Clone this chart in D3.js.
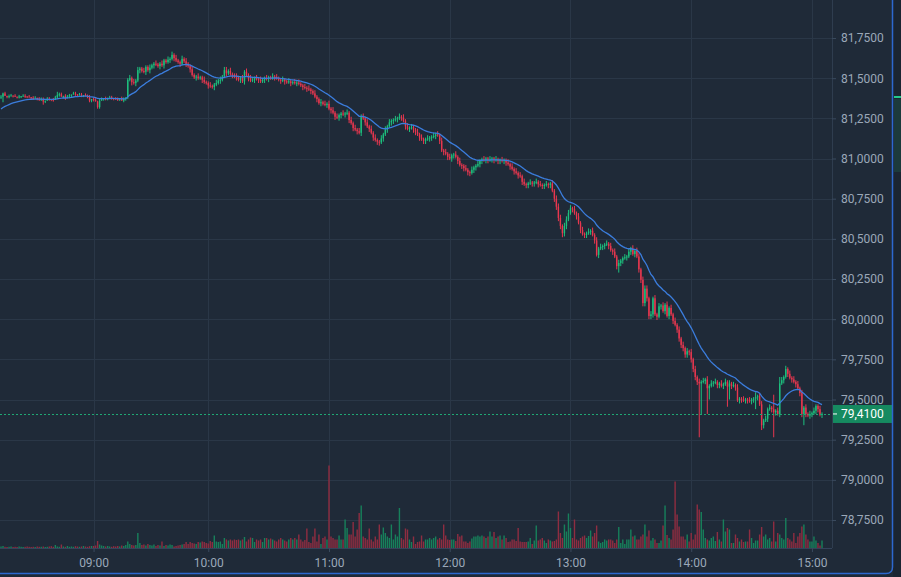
<!DOCTYPE html>
<html>
<head>
<meta charset="utf-8">
<script src="https://cdn.jsdelivr.net/npm/d3@7"></script>
<style>
  html, body { margin: 0; padding: 0; background: #1f2a38; }
  svg { display: block; font-family: Roboto, "Noto Sans", sans-serif; }
</style>
</head>
<body>
<svg width="901" height="577"></svg>
<script>
// one candle per minute, 08:14 - 15:05, a few minutes without trades
var startTime = "08:14",
    endTime = "15:05",
    missingMinutes = ["09:12", "09:33", "09:47"];

var firstOpen = 81.38;

var closes = [
  // 08:14 - 08:59
  81.385, 81.405, 81.39, 81.385, 81.388, 81.392, 81.39, 81.385, 81.384, 81.386,
  81.388, 81.39, 81.387, 81.385, 81.382, 81.378, 81.375, 81.378, 81.372, 81.368,
  81.37, 81.355, 81.36, 81.372, 81.37, 81.367, 81.364, 81.38, 81.395, 81.40,
  81.385, 81.39, 81.375, 81.385, 81.392, 81.398, 81.405, 81.40, 81.395, 81.398,
  81.392, 81.395, 81.388, 81.385, 81.36, 81.37,
  // 09:00
  81.365, 81.355, 81.32, 81.36, 81.37, 81.375, 81.372, 81.378, 81.38, 81.376,
  81.372, 81.37, 81.368, 81.375, 81.36, 81.37, 81.38, 81.49, 81.50, 81.475,
  81.47, 81.485, 81.55, 81.56, 81.545, 81.54, 81.57, 81.55, 81.565, 81.58,
  81.59, 81.585, 81.575, 81.59, 81.58, 81.61, 81.60, 81.615, 81.62, 81.645,
  81.625, 81.61, 81.60, 81.59, 81.62, 81.605, 81.59, 81.575, 81.555, 81.52,
  81.505, 81.51, 81.50, 81.505, 81.49, 81.475, 81.47,
  // 10:00
  81.455, 81.45, 81.445, 81.46, 81.47, 81.485, 81.49, 81.51, 81.55, 81.53,
  81.545, 81.525, 81.52, 81.51, 81.505, 81.49, 81.50, 81.48, 81.54, 81.52,
  81.50, 81.485, 81.49, 81.50, 81.495, 81.49, 81.48, 81.49, 81.50, 81.495,
  81.505, 81.50, 81.51, 81.505, 81.50, 81.49, 81.485, 81.49, 81.48, 81.475,
  81.48, 81.47, 81.475, 81.47, 81.472, 81.465, 81.455, 81.445, 81.44, 81.435,
  81.43, 81.42, 81.405, 81.385, 81.37, 81.345, 81.35, 81.34, 81.335, 81.34,
  // 11:00
  81.31, 81.30, 81.285, 81.26, 81.255, 81.27, 81.28, 81.275, 81.28, 81.285,
  81.24, 81.22, 81.19, 81.18, 81.17, 81.16, 81.26, 81.25, 81.225, 81.20,
  81.185, 81.16, 81.13, 81.115, 81.105, 81.10, 81.125, 81.15, 81.18, 81.20,
  81.225, 81.235, 81.24, 81.245, 81.25, 81.26, 81.255, 81.235, 81.20, 81.185,
  81.19, 81.195, 81.18, 81.165, 81.15, 81.13, 81.12, 81.11, 81.12, 81.125,
  81.13, 81.135, 81.14, 81.15, 81.145, 81.11, 81.05, 81.04, 81.03, 81.01,
  // 12:00
  81.00, 81.02, 81.025, 81.01, 80.985, 80.96, 80.955, 80.94, 80.93, 80.915,
  80.91, 80.93, 80.945, 80.955, 80.965, 80.985, 80.995, 80.99, 81.00, 80.99,
  80.995, 81.00, 80.99, 80.995, 80.985, 80.99, 80.985, 80.99, 80.975, 80.965,
  80.95, 80.935, 80.92, 80.91, 80.895, 80.89, 80.855, 80.84, 80.835, 80.845,
  80.85, 80.845, 80.85, 80.855, 80.84, 80.835, 80.83, 80.835, 80.84, 80.835,
  80.845, 80.80, 80.75, 80.70, 80.63, 80.58, 80.535, 80.58, 80.62, 80.66,
  // 13:00
  80.69, 80.685, 80.66, 80.64, 80.60, 80.555, 80.53, 80.525, 80.535, 80.545,
  80.55, 80.525, 80.49, 80.40, 80.44, 80.45, 80.455, 80.465, 80.47, 80.455,
  80.43, 80.42, 80.39, 80.33, 80.35, 80.365, 80.38, 80.385, 80.39, 80.42,
  80.44, 80.405, 80.425, 80.39, 80.31, 80.245, 80.10, 80.19, 80.13, 80.02,
  80.03, 80.13, 80.03, 80.015, 80.08, 80.085, 80.05, 80.09, 80.02, 80.07,
  80.03, 79.99, 79.965, 79.935, 79.88, 79.84, 79.82, 79.78, 79.80, 79.795,
  // 14:00
  79.75, 79.69, 79.64, 79.61, 79.60, 79.61, 79.615, 79.625, 79.57, 79.585,
  79.60, 79.605, 79.61, 79.59, 79.60, 79.585, 79.595, 79.61, 79.58, 79.60,
  79.585, 79.59, 79.575, 79.495, 79.505, 79.50, 79.495, 79.50, 79.495, 79.49,
  79.50, 79.505, 79.515, 79.52, 79.47, 79.34, 79.37, 79.38, 79.44, 79.45,
  79.44, 79.42, 79.43, 79.41, 79.60, 79.62, 79.64, 79.69, 79.66, 79.635,
  79.625, 79.61, 79.595, 79.57, 79.54, 79.41, 79.45, 79.41, 79.40, 79.41,
  // 15:00
  79.415, 79.43, 79.46, 79.44, 79.405, 79.41
];

// shadow lengths above / below the body, in hundredths
var upperWick = [
  1,0,1,0,1,1,0,1,0,1, 0,1,1,0,1,0,1,1,0,1, 1,1,0,1,1,0,1,1,2,1, 1,0,1,1,1,0,1,1,0,1, 1,0,1,1,1,0,
  1,1,0,1,1,0,1,0,1,1, 0,1,1,0,1,1,0,1,2,1, 2,1,2,1,1,2,1,1,2,1, 1,2,1,1,2,1,1,2,1,2, 1,2,1,1,2,1,2,1,1,2, 1,1,2,1,1,2,1,
  1,2,1,1,2,1,2,1,2,2, 1,2,1,1,2,1,1,2,1,2, 1,2,1,1,2,1,2,1,1,2, 1,1,2,1,2,1,1,2,1,1, 2,1,1,2,1,2,1,1,2,1, 2,1,1,2,1,1,2,1,2,1,
  2,1,2,1,2,1,1,2,1,2, 1,2,1,2,1,2,1,2,1,2, 1,2,1,2,1,1,2,1,2,1, 2,1,1,2,1,2,1,2,1,2, 1,2,1,1,2,1,2,1,1,2, 1,1,2,1,2,1,2,1,2,1,
  2,1,1,2,1,2,1,1,2,1, 1,2,1,1,2,1,1,2,1,1, 2,1,1,2,1,1,2,1,1,2, 1,2,1,2,1,2,1,2,1,1, 2,1,1,2,1,2,1,1,2,1, 1,2,1,2,2,2,1,2,2,2,
  2,1,2,1,2,1,2,1,1,2, 1,2,1,2,1,2,1,1,2,1, 2,1,2,1,2,1,1,2,1,2, 1,2,1,2,2,1,2,2,2,1, 2,1,2,1,2,1,2,1,2,1, 2,1,2,1,2,1,2,1,2,1,
  2,1,2,1,2,1,2,1,2,1, 2,1,2,1,1,2,1,2,1,2, 1,2,1,2,1,1,2,1,1,2, 1,1,2,1,2,2,1,2,1,2, 1,2,1,2,1,2,1,2,1,2, 1,2,1,2,1,2,1,2,1,2, 1,2,1,1,2,1
];
var lowerWick = [
  1,0,0,1,1,0,1,0,1,1, 1,0,1,1,0,1,1,0,1,1, 1,2,1,0,1,1,1,0,1,1, 0,1,1,0,1,1,0,1,1,0, 1,1,0,1,1,1,
  1,0,1,1,0,1,1,1,0,1, 1,0,1,1,0,1,1,1,1,2, 1,2,1,2,1,1,2,1,2,1, 2,1,1,2,1,2,1,1,2,1, 2,1,1,2,1,1,2,1,2,1, 1,2,1,1,2,1,1,
  2,1,1,2,1,1,2,1,1,2, 1,1,2,1,2,1,2,1,2,1, 2,1,1,2,1,2,1,1,2,1, 2,1,1,2,1,1,2,1,2,1, 1,2,1,1,2,1,1,2,1,2, 1,2,1,1,2,1,2,1,1,2,
  1,2,1,2,1,2,2,1,2,1, 2,1,2,1,2,1,2,1,2,1, 2,1,2,1,2,2,1,2,1,2, 1,2,2,1,2,1,2,1,2,1, 2,1,2,2,1,2,1,2,2,1, 2,2,1,2,1,2,1,2,1,2,
  1,2,2,1,2,1,2,2,1,2, 2,1,2,2,1,2,2,1,2,2, 1,2,2,1,2,2,1,2,2,1, 2,1,2,1,2,1,2,1,2,2, 1,2,2,1,2,1,2,2,1,2, 2,1,2,2,2,2,2,2,2,1,
  1,2,1,2,1,2,1,2,2,1, 2,1,2,1,2,1,2,2,1,2, 1,2,1,2,1,2,2,1,2,1, 2,1,2,1,2,2,2,2,2,2, 2,2,1,2,1,2,1,2,1,2, 1,2,1,2,2,2,2,2,2,2,
  2,2,2,2,1,2,1,2,1,2, 1,2,1,2,2,1,2,1,2,1, 2,1,2,1,2,2,1,2,2,1, 2,2,1,2,1,2,2,1,2,1, 2,1,2,1,2,1,2,1,2,1, 2,1,2,1,2,2,1,2,1,2, 2,1,2,2,1,2
];

var volumes = [
  15, 20, 12, 10, 12, 15, 10, 12, 10, 15,
  12, 10, 12, 15, 12, 10, 12, 10, 15, 12,
  12, 15, 10, 12, 15, 18, 12, 30, 15, 12,
  35, 15, 12, 20, 12, 15, 12, 18, 15, 12,
  15, 20, 15, 12, 18, 20,
  20, 25, 70, 35, 25, 20, 15, 20, 15, 12,
  18, 15, 20, 15, 25, 20, 30, 65, 40, 30,
  25, 30, 150, 50, 30, 35, 25, 40, 30, 25,
  35, 20, 30, 25, 65, 20, 30, 25, 35, 30,
  15, 20, 25, 30, 35, 40, 60, 40, 60, 50,
  45, 40, 60, 55, 65, 60, 50,
  45, 70, 60, 125, 65, 60, 65, 40, 100, 85,
  75, 85, 75, 85, 80, 85, 75, 85, 110, 65,
  85, 105, 100, 60, 85, 75, 85, 60, 100, 100,
  85, 95, 85, 75, 65, 85, 100, 85, 75, 65,
  85, 100, 85, 100, 85, 135, 85, 65, 80, 195,
  60, 50, 115, 195, 65, 135, 40, 100, 115, 85,
  825, 115, 100, 85, 85, 125, 85, 85, 285, 200,
  135, 135, 260, 115, 185, 350, 425, 115, 100, 85,
  195, 85, 65, 115, 85, 235, 135, 205, 150, 115,
  100, 235, 85, 135, 115, 400, 100, 85, 195, 185,
  85, 60, 115, 40, 60, 65, 125, 65, 85, 85,
  100, 85, 100, 115, 85, 100, 85, 235, 125, 85,
  80, 85, 85, 70, 140, 115, 125, 65, 65, 50,
  65, 95, 115, 115, 125, 115, 125, 115, 100, 115,
  165, 115, 160, 100, 115, 125, 85, 125, 100, 60,
  65, 85, 85, 70, 200, 65, 60, 60, 60, 65,
  100, 40, 75, 225, 75, 85, 100, 75, 50, 85,
  75, 65, 70, 85, 365, 150, 100, 235, 165, 345,
  200, 100, 285, 85, 75, 100, 115, 125, 100, 120,
  175, 115, 150, 225, 65, 50, 60, 85, 75, 85,
  85, 75, 50, 85, 210, 50, 85, 40, 85, 85,
  185, 115, 125, 85, 85, 115, 135, 235, 115, 175,
  75, 100, 85, 50, 50, 75, 225, 425, 130, 100,
  85, 185, 665, 335, 215, 115, 115, 85, 135, 65,
  150, 85, 135, 435, 385, 360, 185, 100, 85, 75,
  100, 115, 70, 160, 85, 65, 285, 165, 200, 185,
  50, 50, 135, 100, 65, 85, 60, 65, 65, 185,
  100, 50, 75, 75, 135, 210, 115, 135, 85, 100,
  65, 265, 65, 150, 135, 100, 85, 300, 100, 85,
  65, 150, 50, 115, 150, 215, 235, 135, 85, 65,
  65, 115, 75, 50, 25, 75
];

// candles whose shadow reaches well past the body
var wickIdx  = [1, 48, 179, 279, 307, 347, 348, 351, 352, 361, 362, 375, 378, 384, 387, 399];
var wickLow  = [81.35, 81.315, 81.16, 80.51, 80.29, 79.265, 79.41, 79.41, 79.50, 79.455, 79.50, 79.44, 79.31, 79.265, 79.46, 79.34];
var wickHigh = [81.41, 81.36, 81.275, 80.58, 80.36, 79.61, 79.62, 79.625, 79.595, 79.61, 79.61, 79.545, 79.47, 79.53, 79.64, 79.455];

var priceTicks = [78.75, 79.0, 79.25, 79.5, 79.75, 80.0, 80.25, 80.5, 80.75, 81.0, 81.25, 81.5, 81.75];
var timeTicks = ["09:00", "10:00", "11:00", "12:00", "13:00", "14:00", "15:00"];

var maPeriod = 20, maSeed = 81.30;

// ---------------------------------------------------------------
var svg = d3.select("svg"),
    plotW = 832, plotH = 548;

var up = "#1dc07e", down = "#e8374f",
    volUp = "#17805b", volDown = "#8f2d41";

var fmtTime = d3.timeFormat("%H:%M"), parseTime = d3.timeParse("%H:%M");
var times = d3.timeMinute.range(parseTime(startTime), d3.timeMinute.offset(parseTime(endTime), 1))
  .map(fmtTime)
  .filter(function(t) { return missingMinutes.indexOf(t) < 0; });

var candles = closes.map(function(c, i) {
  var o = i ? closes[i - 1] : firstOpen;
  return {
    t: times[i], o: o, c: c,
    h: Math.max(o, c) + upperWick[i] / 100,
    l: Math.min(o, c) - lowerWick[i] / 100,
    v: volumes[i]
  };
});
wickIdx.forEach(function(idx, k) {
  var d = candles[idx];
  d.l = Math.min(d.l, wickLow[k]);
  d.h = Math.max(d.h, wickHigh[k]);
});

var ema = maSeed;
var maVals = closes.map(function(c) { ema = ema + (c - ema) * 2 / (maPeriod + 1); return ema; });

var x = d3.scalePoint().domain(times).range([1, 822]);
var y = d3.scaleLinear().domain([81.9865, 78.5758]).range([0, plotH]);
var yv = d3.scaleLinear().domain([0, 1000]).range([plotH, plotH - 100]);

svg.append("defs").append("clipPath").attr("id", "plot")
  .append("rect").attr("width", plotW).attr("height", plotH);

// grid
var grid = svg.append("g").attr("stroke", "#2a3747").attr("shape-rendering", "crispEdges");
grid.selectAll(".h").data(priceTicks).enter().append("line")
  .attr("x1", 0).attr("x2", plotW)
  .attr("y1", function(d) { return Math.round(y(d)) + 0.5; })
  .attr("y2", function(d) { return Math.round(y(d)) + 0.5; });
grid.selectAll(".v").data(timeTicks).enter().append("line")
  .attr("y1", 0).attr("y2", plotH)
  .attr("x1", function(d) { return Math.round(x(d)) + 0.5; })
  .attr("x2", function(d) { return Math.round(x(d)) + 0.5; });

var plot = svg.append("g").attr("clip-path", "url(#plot)");

// volume
plot.append("g").selectAll("rect").data(candles).enter().append("rect")
  .attr("x", function(d) { return x(d.t) - 0.7; })
  .attr("width", 1.4)
  .attr("y", function(d) { return yv(d.v); })
  .attr("height", function(d) { return plotH - yv(d.v); })
  .attr("fill", function(d) { return d.c >= d.o ? volUp : volDown; });

// candles
var cg = plot.append("g").selectAll("g").data(candles).enter().append("g")
  .attr("fill", function(d) { return d.c >= d.o ? up : down; })
  .attr("stroke", function(d) { return d.c >= d.o ? up : down; });
cg.append("line")
  .attr("x1", function(d) { return x(d.t); }).attr("x2", function(d) { return x(d.t); })
  .attr("y1", function(d) { return y(d.h); }).attr("y2", function(d) { return y(d.l); })
  .attr("stroke-width", 1);
cg.append("rect")
  .attr("stroke", "none")
  .attr("x", function(d) { return x(d.t) - 0.7; })
  .attr("width", 1.4)
  .attr("y", function(d) { return y(Math.max(d.o, d.c)); })
  .attr("height", function(d) { return Math.max(1, Math.abs(y(d.o) - y(d.c))); });

// moving average
plot.append("path")
  .datum(maVals)
  .attr("fill", "none")
  .attr("stroke", "#3b7ddd")
  .attr("stroke-width", 1.3)
  .attr("d", d3.line().x(function(d, i) { return x(times[i]); }).y(function(d) { return y(d); }));

// last price line
var last = closes[closes.length - 1];
svg.append("line")
  .attr("x1", 0).attr("x2", plotW)
  .attr("y1", Math.round(y(last)) + 0.5).attr("y2", Math.round(y(last)) + 0.5)
  .attr("stroke", "#1fa874").attr("stroke-dasharray", "2,2");

// axes
svg.append("line").attr("x1", plotW + 0.5).attr("x2", plotW + 0.5).attr("y1", 0).attr("y2", plotH)
  .attr("stroke", "#2f3d4f");
svg.append("line").attr("x1", 0).attr("x2", plotW).attr("y1", plotH + 0.5).attr("y2", plotH + 0.5)
  .attr("stroke", "#34435a");

var fmtPrice = function(d) { return d.toFixed(4).replace(".", ","); };

var yAxis = svg.append("g")
  .attr("transform", "translate(" + plotW + ",0)")
  .call(d3.axisRight(y).tickValues(priceTicks).tickFormat(fmtPrice).tickSize(4).tickPadding(5));
var xAxis = svg.append("g")
  .attr("transform", "translate(0," + plotH + ")")
  .call(d3.axisBottom(x).tickValues(timeTicks).tickSize(4).tickPadding(6));

[yAxis, xAxis].forEach(function(a) {
  a.select(".domain").remove();
  a.selectAll(".tick line").attr("stroke", "#3a4a5e");
  a.selectAll("text").attr("fill", "#9ba8b8").attr("font-size", 12).attr("font-family", "Roboto, sans-serif");
});

// last price label
var ly = y(last);
svg.append("rect").attr("x", plotW + 1).attr("y", ly - 9).attr("width", 59).attr("height", 18)
  .attr("fill", "#168a60");
svg.append("line").attr("x1", plotW + 1).attr("x2", plotW + 5).attr("y1", ly).attr("y2", ly)
  .attr("stroke", "#ffffff");
svg.append("text").attr("x", plotW + 9).attr("y", ly).attr("dy", "0.35em")
  .attr("fill", "#ffffff").attr("font-size", 12).attr("font-family", "Roboto, sans-serif")
  .text(fmtPrice(last));

// panel border and side strip
svg.append("rect").attr("x", 893).attr("y", 0).attr("width", 8).attr("height", 577).attr("fill", "#1b2532");
svg.append("rect").attr("x", 894).attr("y", 99).attr("width", 7).attr("height", 73).attr("fill", "#1c3a3c");
svg.append("rect").attr("x", 894).attr("y", 96).attr("width", 7).attr("height", 2).attr("fill", "#22c98c");
svg.append("path")
  .attr("d", "M892.5,0 V567 Q892.5,573.5 886,573.5 H0")
  .attr("fill", "none").attr("stroke", "#2d68cf").attr("stroke-width", 1.5);
</script>
</body>
</html>
